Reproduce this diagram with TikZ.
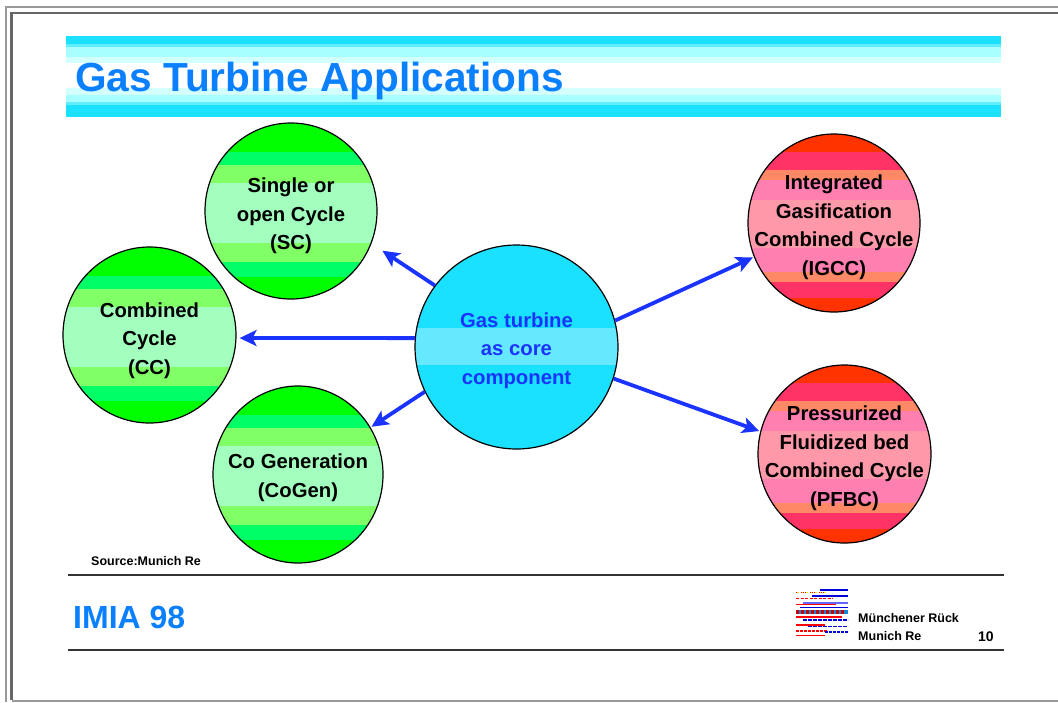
\documentclass[tikz,border=0pt]{standalone}
\usepackage{fontspec}
\setmainfont{Liberation Sans}
\usetikzlibrary{shapes.geometric,arrows.meta}
\definecolor{gA}{HTML}{00FF00}
\definecolor{gB}{HTML}{00FF66}
\definecolor{gC}{HTML}{80FF66}
\definecolor{gD}{HTML}{A2FFBE}
\definecolor{rA}{HTML}{FF3300}
\definecolor{rB}{HTML}{FF3366}
\definecolor{rC}{HTML}{FF8866}
\definecolor{rD}{HTML}{FF80B0}
\definecolor{rE}{HTML}{FF99AA}
\definecolor{cyA}{HTML}{1AE1FF}
\definecolor{cyB}{HTML}{66E8FF}
\definecolor{cyC}{HTML}{60EEFF}
\definecolor{cyD}{HTML}{A8FFFF}
\definecolor{cyE}{HTML}{D4FFFF}
\definecolor{titleblue}{HTML}{0A80FF}
\definecolor{arrowblue}{HTML}{1A33FF}
\definecolor{rulegrey}{HTML}{333333}
\newcommand{\bandfill}[1]{%
  \foreach \a/\c in {#1}
    \fill[\c] ([yshift=-\a pt]path picture bounding box.north west) rectangle (path picture bounding box.south east);}
\newcommand{\lbl}[2]{\makebox[0pt][c]{\raisebox{#1}[0pt][0pt]{\fontsize{20.3}{28.5}\selectfont\begin{tabular}{@{}c@{}}#2\end{tabular}}}}
\tikzset{
  disc/.style={ellipse,draw=black,line width=1.2pt,inner sep=0pt,font=\bfseries},
  greendisc/.style={disc,path picture={\bandfill{0/gA,29/gB,42/gC,60/gD,120/gC,139/gB,154/gA}}},
  reddisc/.style={disc,path picture={\bandfill{0/rA,18/rB,36/rC,46/rD,66/rE,114/rD,138/rC,148/rB,164/rA}}},
  cyandisc/.style={disc,text=arrowblue,path picture={\bandfill{0/cyA,83/cyB,120/cyA}}},
  link/.style={draw=arrowblue,line width=3.8pt,-{Stealth[length=17pt,width=16pt,inset=4pt]}},
  footrule/.style={draw=rulegrey,line width=1.7pt},
  smalltext/.style={font=\bfseries\fontsize{12.5}{14}\selectfont,inner sep=0pt,text=black},
  stripe/.style={line width=1.8pt},
}
\begin{document}
\begin{tikzpicture}[x=1pt,y=-1pt]
\useasboundingbox (0,0) rectangle (1058,702);
% page frame
\draw[color=black!40,line width=2pt] (5.5,702) -- (5.5,6.5) -- (1058,6.5);
\draw[color=black!60,line width=2.2pt] (11.5,700) -- (11.5,13) -- (1058,13);
\draw[color=black!40,line width=2pt] (11.5,701) -- (1058,701);
% title band
\foreach \a/\b/\c in {36/44/cyA,44/47/cyC,47/57/cyD,57/63/cyE,88/95/cyE,95/102/cyD,102/105/cyC,105/117/cyA}
  \fill[\c] (66,\a) rectangle (1001,\b);
\node[anchor=base west,inner sep=0pt,text=titleblue,font=\bfseries\fontsize{40.6}{44}\selectfont] (title) at (75,91) {Gas Turbine Applications};
% discs
\node[greendisc,minimum width=172pt,minimum height=176pt] (sc) at (291,211) {\lbl{-9.5pt}{Single or\\open Cycle\\(SC)}};
\node[greendisc,minimum width=173pt,minimum height=176pt] (cc) at (149.5,335) {\lbl{-10pt}{Combined\\Cycle\\(CC)}};
\node[greendisc,minimum width=170pt,minimum height=177pt] (cogen) at (298,474.5) {\lbl{-8pt}{Co Generation\\(CoGen)}};
\node[cyandisc,minimum width=203pt,minimum height=204pt] (gas) at (516.5,347) {\lbl{-8pt}{Gas turbine\\as core\\component}};
\node[reddisc,minimum width=172pt,minimum height=178pt] (igcc) at (834,223) {\lbl{-9pt}{Integrated\\Gasification\\Combined Cycle\\(IGCC)}};
\node[reddisc,minimum width=173pt,minimum height=178pt] (pfbc) at (844.5,454) {\lbl{-9pt}{Pressurized\\Fluidized bed\\Combined Cycle\\(PFBC)}};
% connectors
\draw[link,shorten >=13pt] (gas.143) -- (sc.-22.3);
\draw[link,shorten >=3pt] (gas.175) -- (cc.-2.6);
\draw[link,shorten >=1pt] (gas.206.7) -- (cogen.33);
\draw[link,shorten >=1pt] (gas.15.9) -- (igcc.203.9);
\draw[link,shorten >=1pt] (gas.-18.2) -- (pfbc.165.6);
% footer
\node[smalltext,anchor=base west] (source) at (91,565) {Source:Munich Re};
\draw[footrule] (68,575) -- (1004,575);
\draw[footrule] (68,650) -- (1004,650);
\node[anchor=base west,inner sep=0pt,text=titleblue,font=\bfseries\fontsize{32}{36}\selectfont] (imia) at (73,628) {IMIA 98};
% logo
\draw[stripe,blue!85!black] (820,590) -- (848,590);
\draw[stripe,red,dash pattern=on 3pt off 1.5pt] (796,592.5) -- (826,592.5);
\draw[stripe,yellow,dash pattern=on 1.5pt off 3pt] (797,592.5) -- (826,592.5);
\draw[stripe,blue!85!black] (812,596) -- (848,596);
\draw[stripe,red,dash pattern=on 3pt off 1.5pt] (796,598.5) -- (833,598.5);
\draw[stripe,blue!60] (803,603) -- (848,603);
\draw[stripe,red] (796,604.5) -- (836,604.5);
\draw[stripe,blue!85!black] (800,607.5) -- (848,607.5);
\draw[line width=4pt,cyan!70!blue] (796,612) -- (848,612);
\draw[line width=4pt,red!80!black,dash pattern=on 3pt off 2pt] (796,612) -- (844,612);
\draw[stripe,red] (796,617) -- (842,617);
\draw[stripe,blue!85!black,dash pattern=on 4pt off 1pt] (803,620) -- (848,620);
\draw[stripe,red] (796,625) -- (825,625);
\draw[stripe,blue!85!black,dash pattern=on 4pt off 1pt] (808,626.5) -- (848,626.5);
\draw[stripe,red,dash pattern=on 3pt off 1pt] (796,631) -- (828,631);
\draw[stripe,blue!85!black,dash pattern=on 3pt off 1pt] (825,632) -- (848,632);
\draw[stripe,red] (796,635.5) -- (825,635.5);
\node[smalltext,anchor=base west] (mr) at (858,622) {Münchener Rück};
\node[smalltext,anchor=base west] (mre) at (858,640) {Munich Re};
\node[smalltext,anchor=base west,font=\bfseries\fontsize{14}{14}\selectfont] (page) at (978,641) {10};
\end{tikzpicture}
\end{document}
